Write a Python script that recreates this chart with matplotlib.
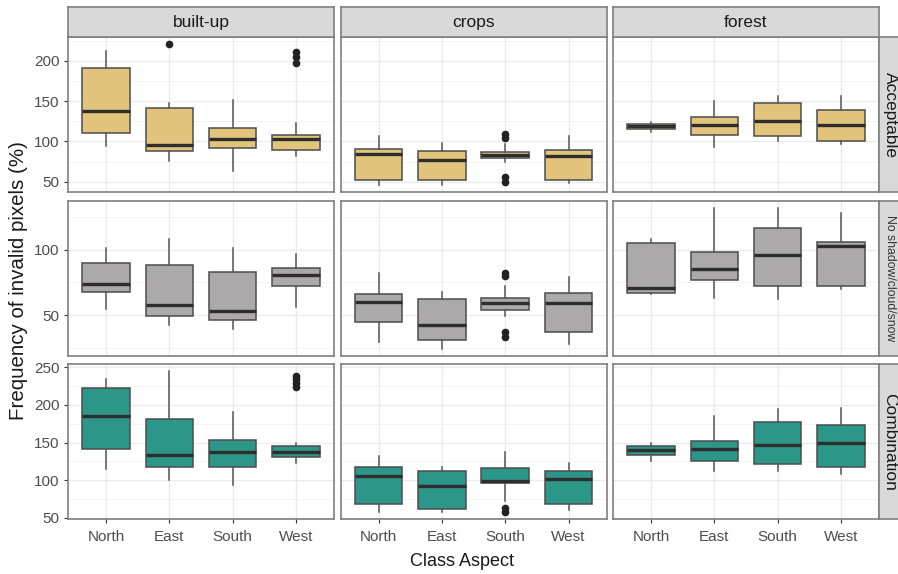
import matplotlib
matplotlib.use("Agg")
import matplotlib.pyplot as plt
from matplotlib.ticker import MultipleLocator

plt.rcParams['font.family'] = ['Liberation Sans', 'DejaVu Sans']

aspects = ["North", "East", "South", "West"]
classes = ["built-up", "crops", "forest"]
conditions = ["Acceptable", "No shadow/cloud/snow", "Combination"]

# box statistics per class (built-up, crops, forest), each ordered North/East/South/West
acc_lo = [[95, 76, 63, 82], [46, 46, 75, 49], [112, 93, 100, 97]]
acc_q1 = [[111, 88, 92, 90], [52, 52, 80, 52], [116, 108, 107, 100]]
acc_med = [[138, 96, 103, 103], [85, 77, 83, 82], [119, 120, 125, 120]]
acc_q3 = [[191, 141, 117, 108], [91, 88, 87, 89], [122, 131, 148, 139]]
acc_hi = [[212, 148, 151, 123], [107, 98, 97, 107], [124, 150, 156, 156]]
acc_out = [[[], [221], [], [211, 205, 198]],
           [[], [], [109, 104, 56, 50], []],
           [[], [], [], []]]

nsc_lo = [[55, 42, 39, 56], [29, 24, 49, 28], [66, 63, 62, 70]]
nsc_q1 = [[68, 49, 46, 72], [45, 31, 54, 37], [67, 77, 72, 72]]
nsc_med = [[74, 58, 53, 81], [60, 42, 59, 59], [71, 85, 96, 103]]
nsc_q3 = [[90, 88, 83, 86], [66, 62, 63, 67], [105, 98, 117, 106]]
nsc_hi = [[101, 108, 101, 97], [82, 68, 72, 79], [108, 132, 132, 128]]
nsc_out = [[[], [], [], []],
           [[], [], [82, 80, 37, 33], []],
           [[], [], [], []]]

comb_lo = [[115, 100, 94, 123], [58, 58, 72, 61], [125, 112, 112, 109]]
comb_q1 = [[142, 118, 117, 131], [69, 62, 97, 68], [133, 125, 122, 118]]
comb_med = [[185, 134, 137, 137], [106, 93, 99, 102], [140, 141, 147, 149]]
comb_q3 = [[223, 181, 154, 145], [117, 112, 116, 113], [145, 152, 178, 174]]
comb_hi = [[235, 245, 191, 150], [132, 118, 137, 123], [150, 185, 194, 196]]
comb_out = [[[], [], [], [239, 234, 229, 224]],
            [[], [], [63, 58], []],
            [[], [], [], []]]

rows = [
    (acc_lo, acc_q1, acc_med, acc_q3, acc_hi, acc_out),
    (nsc_lo, nsc_q1, nsc_med, nsc_q3, nsc_hi, nsc_out),
    (comb_lo, comb_q1, comb_med, comb_q3, comb_hi, comb_out),
]
fills = ["#E2C47C", "#ABA9A9", "#2C9689"]

W, H = 898, 574
fig = plt.figure(figsize=(W / 100, H / 100), dpi=100)


def px_axes(x0, y0, w, h):
    return fig.add_axes([x0 / W, 1 - (y0 + h) / H, w / W, h / H])


col_x = [68, 340.5, 613]
col_w = 266
row_y = [37, 201, 364]
row_h = 155
border = "#7F7F7F"
strip_fill = "#D9D9D9"

for r, (lo, q1, med, q3, hi, out) in enumerate(rows):
    vals = [v for arr in (lo, hi) for grp in arr for v in grp]
    vals += [v for grp in out for f in grp for v in f]
    span = max(vals) - min(vals)
    ylim = (min(vals) - 0.05 * span, max(vals) + 0.05 * span)
    for c in range(3):
        ax = px_axes(col_x[c], row_y[r], col_w, row_h)
        stats = [dict(whislo=lo[c][k], q1=q1[c][k], med=med[c][k],
                      q3=q3[c][k], whishi=hi[c][k], fliers=out[c][k])
                 for k in range(len(aspects))]
        ax.bxp(stats, positions=range(1, 5), widths=0.75, patch_artist=True,
               showcaps=False,
               boxprops=dict(facecolor=fills[r], edgecolor="#4D4D4D", linewidth=1.1),
               medianprops=dict(color="#2E2E2E", linewidth=2.4),
               whiskerprops=dict(color="#555555", linewidth=1.1),
               flierprops=dict(marker="o", markersize=4.5, markerfacecolor="#222222",
                               markeredgecolor="#222222"))
        ax.set_xlim(0.4, 4.6)
        ax.set_ylim(*ylim)
        ax.yaxis.set_major_locator(MultipleLocator(50))
        ax.yaxis.set_minor_locator(MultipleLocator(25))
        ax.set_xticks(range(1, 5))
        ax.grid(which="major", color="#EBEBEB", linewidth=1.0)
        ax.grid(which="minor", axis="y", color="#F2F2F2", linewidth=0.6)
        ax.set_axisbelow(True)
        for s in ax.spines.values():
            s.set_color(border)
            s.set_linewidth(1.2)
        ax.tick_params(which="minor", length=0)
        ax.tick_params(which="major", length=3, color="#333333",
                       labelsize=11, labelcolor="#4D4D4D", pad=3)
        ax.tick_params(axis="x", pad=5)
        if r == 2:
            ax.set_xticklabels(aspects)
        else:
            ax.set_xticklabels([])
            ax.tick_params(axis="x", length=0)
        if c != 0:
            ax.set_yticklabels([])
            ax.tick_params(axis="y", length=0)

# column strips
for c, name in enumerate(classes):
    s = px_axes(col_x[c], 7, col_w, 30)
    s.set_facecolor(strip_fill)
    s.set_xticks([])
    s.set_yticks([])
    for sp in s.spines.values():
        sp.set_color(border)
        sp.set_linewidth(1.2)
    s.text(0.5, 0.48, name, ha="center", va="center", fontsize=12.5,
           color="#1A1A1A", transform=s.transAxes)

# row strips
strip_sizes = [12.5, 8.8, 12.5]
for r, name in enumerate(conditions):
    s = px_axes(879, row_y[r], 22, row_h)
    s.set_facecolor(strip_fill)
    s.set_xticks([])
    s.set_yticks([])
    for sp in s.spines.values():
        sp.set_color(border)
        sp.set_linewidth(1.2)
    fig.text(890 / W, 1 - (row_y[r] + row_h / 2) / H, name, rotation=-90,
             ha="center", va="center", fontsize=strip_sizes[r],
             color="#1A1A1A" if r != 1 else "#333333")

fig.text(19 / W, 1 - 281 / H, "Frequency of invalid pixels (%)", rotation=90,
         ha="center", va="center", fontsize=14.8, color="#1A1A1A")
fig.text(462 / W, 1 - 561 / H, "Class Aspect", ha="center", va="center",
         fontsize=13, color="#1A1A1A")

fig.savefig("out.png", dpi=100)
